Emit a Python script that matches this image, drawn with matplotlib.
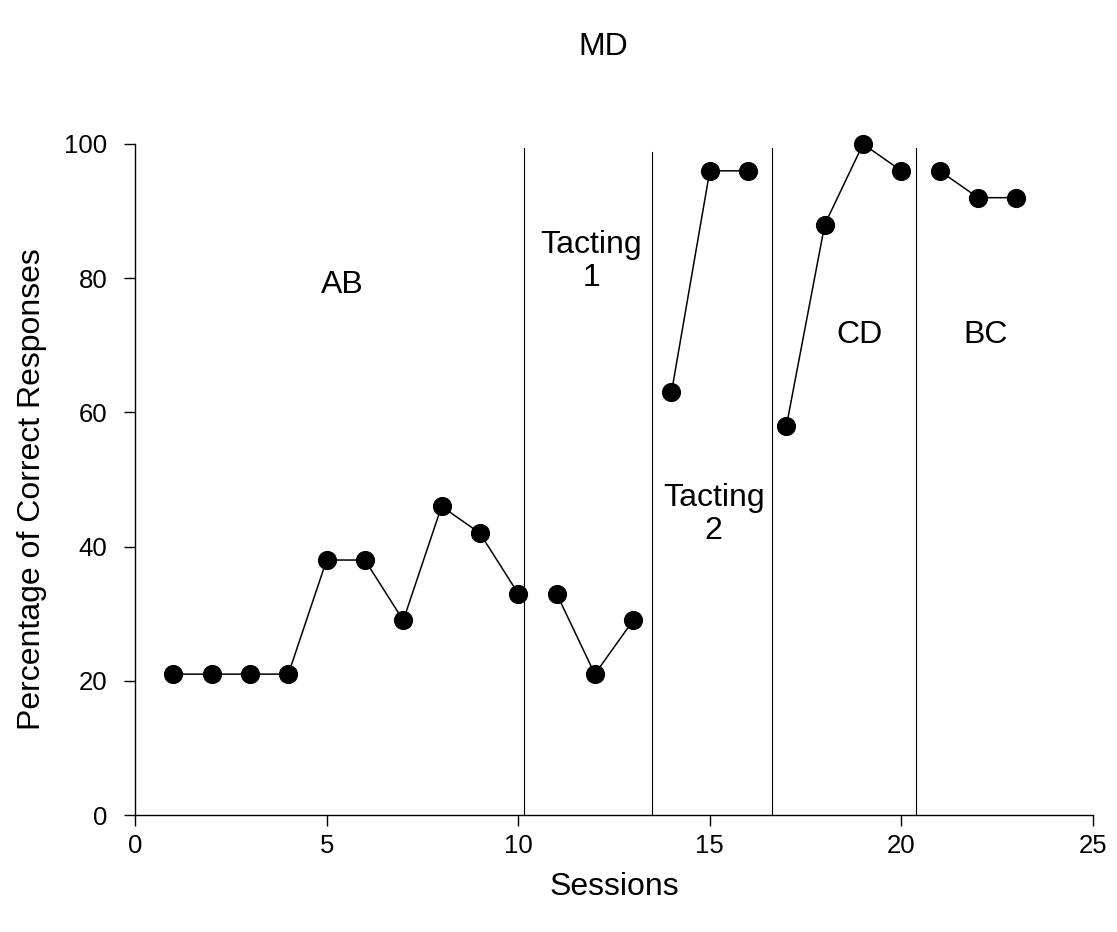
import matplotlib
matplotlib.use("Agg")
import matplotlib.pyplot as plt

plt.rcParams["font.family"] = ["Liberation Sans", "DejaVu Sans"]

# --- data: one list per phase ---------------------------------------------
phase_sessions = [
    [1, 2, 3, 4, 5, 6, 7, 8, 9, 10],
    [11, 12, 13],
    [14, 15, 16],
    [17, 18, 19, 20],
    [21, 22, 23],
]
phase_scores = [
    [21, 21, 21, 21, 38, 38, 29, 46, 42, 33],
    [33, 21, 29],
    [63, 96, 96],
    [58, 88, 100, 96],
    [96, 92, 92],
]
phase_lines = [10.15, 13.5, 16.62, 20.38]
phase_line_tops = [99.4, 98.8, 99.4, 99.4]
phase_labels = ["AB", "Tacting\n1", "Tacting\n2", "CD", "BC"]
label_pos = [(5.4, 79), (11.9, 82.5), (15.1, 44.8), (18.9, 71.5), (22.2, 71.5)]

fig = plt.figure(figsize=(11.17, 9.32), dpi=100)
ax = fig.add_axes([0.1209, 0.1255, 0.8576, 0.72])

for xs, ys in zip(phase_sessions, phase_scores):
    ax.plot(xs, ys, color="black", lw=1.1, marker="o", markersize=12.8,
            clip_on=False, zorder=3)

for x, top in zip(phase_lines, phase_line_tops):
    ax.plot([x, x], [0, top], color="black", lw=0.8, zorder=2)

for lab, (x, y) in zip(phase_labels, label_pos):
    ax.text(x, y, lab, ha="center", va="center", fontsize=23,
            linespacing=1.1)

ax.set_xlim(0, 25)
ax.set_ylim(0, 100)
ax.set_xticks([0, 5, 10, 15, 20, 25])
ax.set_yticks([0, 20, 40, 60, 80, 100])
ax.spines["top"].set_visible(False)
ax.spines["right"].set_visible(False)
for s in ("left", "bottom"):
    ax.spines[s].set_linewidth(1.0)
ax.tick_params(direction="out", length=8, width=1.0, labelsize=18.5)
ax.tick_params(axis="y", pad=12)
ax.tick_params(axis="x", pad=6)

ax.set_xlabel("Sessions", fontsize=23, labelpad=10)
ax.set_ylabel("Percentage of Correct Responses", fontsize=23)
ax.yaxis.set_label_coords(-0.092, 0.485)
fig.text(0.54, 0.95, "MD", ha="center", va="center", fontsize=23)

fig.savefig("out.png", dpi=100, facecolor="white")
